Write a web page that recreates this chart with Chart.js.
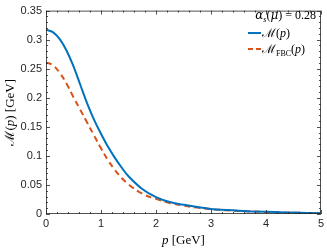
<!DOCTYPE html>
<html>
<head>
<meta charset="utf-8">
<script src="https://cdn.jsdelivr.net/npm/chart.js@4.4.1/dist/chart.umd.min.js"></script>
<style>
    html, body { margin: 0; padding: 0; background: #ffffff; }
    #wrap { width: 327px; height: 250px; position: relative; }
</style>
</head>
<body>
<div id="wrap"><canvas id="massChart"></canvas></div>
<script>
const pValues = [0, 0.125, 0.25, 0.375, 0.5, 0.625, 0.75, 0.875, 1, 1.125, 1.25, 1.375, 1.5, 1.75, 2, 2.25, 2.5, 2.75, 3, 3.5, 4, 4.5, 5];
const massValues = [0.317, 0.313, 0.301, 0.281, 0.254, 0.222, 0.190, 0.162, 0.138, 0.116, 0.097, 0.080, 0.065, 0.043, 0.029, 0.0205, 0.016, 0.012, 0.0088, 0.0058, 0.0037, 0.0024, 0.0013];
const massFbcValues = [0.261, 0.256, 0.243, 0.224, 0.201, 0.179, 0.157, 0.135, 0.113, 0.093, 0.076, 0.062, 0.051, 0.035, 0.026, 0.019, 0.0145, 0.011, 0.0083, 0.0053, 0.0034, 0.0022, 0.0012];
const xTicks = [0, 1, 2, 3, 4, 5];
const yTicks = ['0', '0.05', '0.1', '0.15', '0.2', '0.25', '0.3', '0.35'];
const alphaValue = '0.28';

const blue = '#0072bd';
const orange = '#d95319';
const axisColor = '#262626';
const serif = '"Liberation Serif", "DejaVu Serif", serif';
const greek = '"DejaVu Serif", serif';
const tickFont = '"Liberation Sans Narrow", "Liberation Sans", Arial, sans-serif';

const toPoints = (values) => pValues.map((p, i) => ({ x: p, y: values[i] }));

// draws a row of text pieces with their own fonts
function drawRuns(ctx, runs, x, y, align) {
    let total = 0;
    runs.forEach((r) => {
        ctx.font = r.font;
        total += ctx.measureText(r.text).width;
    });
    let cx = align === 'right' ? x - total : align === 'center' ? x - total / 2 : x;
    runs.forEach((r) => {
        ctx.font = r.font;
        ctx.fillText(r.text, cx, y + (r.dy || 0));
        cx += ctx.measureText(r.text).width;
    });
}

const framePlugin = {
    id: 'frame',
    afterDraw(chart) {
        const { ctx, chartArea: a, scales: { x, y } } = chart;
        ctx.save();
        ctx.strokeStyle = axisColor;
        ctx.lineWidth = 0.8;
        ctx.strokeRect(a.left + 0.5, a.top + 0.5, a.right - a.left - 1, a.bottom - a.top - 1);

        ctx.beginPath();
        for (let i = 0; i <= 25; i++) {
            const px = Math.round(x.getPixelForValue(i * 0.2)) + 0.5;
            const len = i % 5 === 0 ? 4 : 2;
            ctx.moveTo(px, a.bottom);
            ctx.lineTo(px, a.bottom - len);
            ctx.moveTo(px, a.top);
            ctx.lineTo(px, a.top + len);
        }
        for (let i = 0; i <= 35; i++) {
            const py = Math.round(y.getPixelForValue(i * 0.01)) + 0.5;
            const len = i % 5 === 0 ? 4 : 2;
            ctx.moveTo(a.left, py);
            ctx.lineTo(a.left + len, py);
            ctx.moveTo(a.right, py);
            ctx.lineTo(a.right - len, py);
        }
        ctx.stroke();

        ctx.fillStyle = '#000000';
        ctx.textBaseline = 'alphabetic';

        // x title
        drawRuns(ctx, [
            { text: 'p', font: `italic 13px ${serif}` },
            { text: ' [GeV]', font: `13px ${serif}` },
        ], (a.left + a.right) / 2, 244, 'center');

        // y title
        ctx.save();
        ctx.translate(14, (a.top + a.bottom) / 2);
        ctx.rotate(-Math.PI / 2);
        drawRuns(ctx, [
            { text: '\u2133', font: `13px ${serif}` },
            { text: '(', font: `13px ${serif}` },
            { text: 'p', font: `italic 13px ${serif}` },
            { text: ') [GeV]', font: `13px ${serif}` },
        ], 0, 0, 'center');
        ctx.restore();

        // legend
        drawRuns(ctx, [
            { text: '\u03b1', font: `italic 12px ${greek}` },
            { text: 's', font: `italic 8px ${serif}`, dy: 2.5 },
            { text: '(', font: `12px ${serif}` },
            { text: '\u03bc', font: `italic 12px ${greek}` },
            { text: ') = ' + alphaValue, font: `12px ${serif}` },
        ], a.right - 5, 19, 'right');

        ctx.lineWidth = 2;
        ctx.strokeStyle = blue;
        ctx.beginPath();
        ctx.moveTo(248, 33);
        ctx.lineTo(261, 33);
        ctx.stroke();
        drawRuns(ctx, [
            { text: '\u2133', font: `12px ${serif}` },
            { text: '(', font: `12px ${serif}` },
            { text: 'p', font: `italic 12px ${serif}` },
            { text: ')', font: `12px ${serif}` },
        ], 262, 37, 'left');

        ctx.strokeStyle = orange;
        ctx.setLineDash([5, 3]);
        ctx.beginPath();
        ctx.moveTo(248, 49);
        ctx.lineTo(261, 49);
        ctx.stroke();
        ctx.setLineDash([]);
        drawRuns(ctx, [
            { text: '\u2133', font: `12px ${serif}` },
            { text: 'FBC', font: `8px ${serif}`, dy: 2.5 },
            { text: '(', font: `12px ${serif}` },
            { text: 'p', font: `italic 12px ${serif}` },
            { text: ')', font: `12px ${serif}` },
        ], 262, 53, 'left');

        ctx.restore();
    },
};

new Chart(document.getElementById('massChart'), {
    type: 'line',
    data: {
        datasets: [
            {
                label: 'M(p)',
                data: toPoints(massValues),
                borderColor: blue,
                borderWidth: 2,
                pointRadius: 0,
                tension: 0.4,
                fill: false,
            },
            {
                label: 'M_FBC(p)',
                data: toPoints(massFbcValues),
                borderColor: orange,
                borderWidth: 2,
                borderDash: [6, 4],
                pointRadius: 0,
                tension: 0.4,
                fill: false,
            },
        ],
    },
    options: {
        responsive: true,
        maintainAspectRatio: false,
        animation: false,
        layout: { padding: { top: 4, right: 4, left: 0, bottom: 0 } },
        plugins: {
            legend: { display: false },
            tooltip: { enabled: false },
        },
        scales: {
            x: {
                type: 'linear',
                min: 0,
                max: 5,
                afterFit: (scale) => { scale.height = 36; },
                afterBuildTicks: (scale) => { scale.ticks = xTicks.map((v) => ({ value: v })); },
                ticks: {
                    padding: 3,
                    color: axisColor,
                    font: { family: tickFont, size: 11 },
                    callback: (v) => String(v),
                },
                grid: { display: false, drawTicks: false },
                border: { display: false },
            },
            y: {
                type: 'linear',
                min: 0,
                max: 0.35,
                afterFit: (scale) => { scale.width = 46; },
                afterBuildTicks: (scale) => { scale.ticks = yTicks.map((t) => ({ value: Number(t) })); },
                ticks: {
                    padding: 4,
                    color: axisColor,
                    font: { family: tickFont, size: 11 },
                    callback: (v) => yTicks.find((t) => Number(t) === v) || String(v),
                },
                grid: { display: false, drawTicks: false },
                border: { display: false },
            },
        },
    },
    plugins: [framePlugin],
});
</script>
</body>
</html>
